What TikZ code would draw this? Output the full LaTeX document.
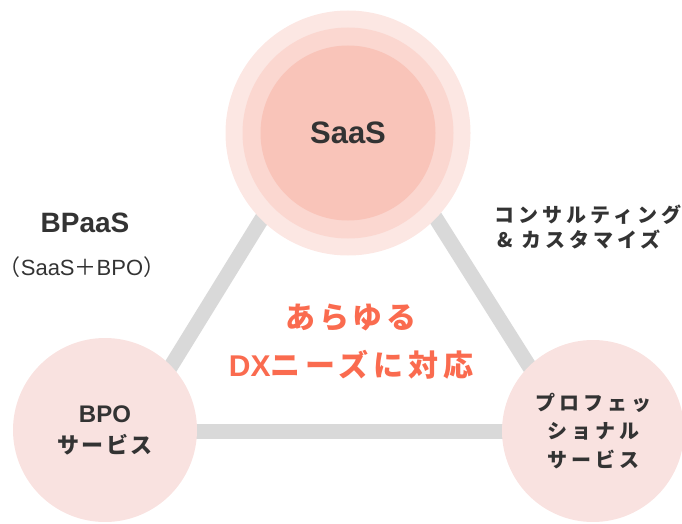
\documentclass[tikz,border=0pt]{standalone}
\usepackage{fontspec}
\setmainfont{Liberation Sans}
\newfontfamily\jpfont{Noto Sans CJK JP}
\newfontfamily\jpnarrow{Noto Sans CJK JP}[LetterSpace=12]
\newfontfamily\jpmid{Noto Sans CJK JP}[LetterSpace=16]
\newfontfamily\jpwide{Noto Sans CJK JP}[LetterSpace=20]

\definecolor{ringA}{HTML}{FCE7E3}
\definecolor{ringB}{HTML}{FBD7D0}
\definecolor{ringC}{HTML}{F9C4B9}
\definecolor{pale}{HTML}{F9E2E0}
\definecolor{linkgray}{HTML}{D9D9D9}
\definecolor{ink}{HTML}{333333}
\definecolor{accent}{HTML}{FA6B4F}

\begin{document}
\begin{tikzpicture}[x=1pt,y=1pt,
  link/.style={draw=linkgray, line width=15pt},
  disc/.style={circle, inner sep=0pt, draw=none},
  label/.style={text=ink, align=center, inner sep=0pt}]
\useasboundingbox (0,0) rectangle (682,523);

% corners of the grey triangle behind the three circles
\coordinate (apex) at (348,444);
\coordinate (baseL) at (131,92);
\coordinate (baseR) at (570,92);
\draw[link] (apex) -- (baseL);
\draw[link] (apex) -- (baseR);
\draw[link] (baseL) -- (baseR);

% SaaS: three concentric discs
\node[disc, fill=ringA, minimum size=245pt] (saasOuter) at (348,390) {};
\node[disc, fill=ringB, minimum size=211pt] (saasMid) at (348,390) {};
\node[disc, fill=ringC, minimum size=175pt, label,
      font=\fontsize{31}{36}\selectfont\bfseries] (saas) at (348,390) {SaaS};

% lower circles
\node[disc, fill=pale, minimum size=184pt, label,
      font=\fontsize{24}{31}\selectfont\bfseries] (bpo) at (105,93)
  {BPO\\{\jpnarrow\fontsize{22}{31}\selectfont\bfseries サービス}};
\node[disc, fill=pale, minimum size=182pt, label,
      font=\jpwide\fontsize{20}{28.5}\selectfont\bfseries] (pro) at (593,92)
  {プロフェッ\\ショナル\\サービス};

% side captions
\node[label, font=\fontsize{28}{30}\selectfont\bfseries] (bpaas) at (85,300) {BPaaS};
\node[label, font=\fontsize{22}{24}\selectfont] (bpaasSub) at (82,256)
  {{\jpfont （}SaaS{\jpfont ＋}BPO{\jpfont ）}};
\node[label, align=left, anchor=west,
      font=\jpwide\fontsize{20}{25}\selectfont\bfseries] (consult) at (494,295.5)
  {コンサルティング\\\,\& カスタマイズ};

% centre message
\node[label, text=accent, font=\fontsize{30}{48}\selectfont\bfseries] (dx) at (351,181)
  {{\jpnarrow\bfseries あらゆる}\\DX{\jpmid\bfseries ニーズに対応}};
\end{tikzpicture}
\end{document}
